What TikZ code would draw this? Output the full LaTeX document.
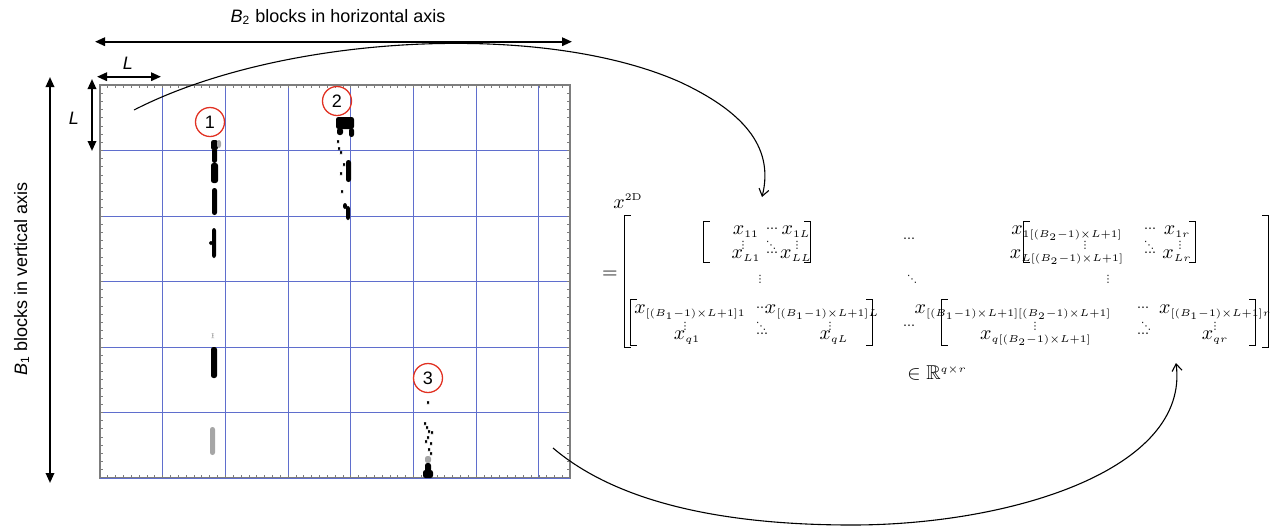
\documentclass[tikz,border=0pt]{standalone}
\usepackage{amssymb}
\usepackage{fontspec}
\usetikzlibrary{arrows.meta}
\newfontfamily\arialfont{Liberation Sans}
\newfontfamily\dotsfont{DejaVu Sans}
\DeclareMathSizes{10}{10}{5}{5}
\definecolor{gridblue}{RGB}{95,110,205}
\definecolor{framegray}{RGB}{125,125,125}
\definecolor{circred}{RGB}{225,50,35}
\newcommand\drawbrackets[1]{%
  \draw[brk] ([xshift=3pt]#1.north west) -- (#1.north west) -- (#1.south west) -- ([xshift=3pt]#1.south west);
  \draw[brk] ([xshift=-3pt]#1.north east) -- (#1.north east) -- (#1.south east) -- ([xshift=-3pt]#1.south east);}
\tikzset{
  dblarrow/.style={line width=1pt, {Triangle[length=5pt,width=4.2pt]}-{Triangle[length=5pt,width=4.2pt]}},
  curvearrow/.style={line width=0.55pt, -{Straight Barb[length=3.5pt,width=5pt]}},
  gridln/.style={gridblue, line width=0.5pt},
  tickln/.style={framegray, line width=0.4pt},
  ink/.style={fill=black, rounded corners=1.2pt},
  smudge/.style={fill=black!35, rounded corners=1.2pt},
  numc/.style={circle, draw=circred, line width=0.65pt, minimum size=14.5pt, inner sep=0pt, font=\arialfont\fontsize{9}{10}\selectfont},
  lbl/.style={font=\arialfont\fontsize{9}{10}\selectfont, inner sep=0pt},
  blk/.style={inner sep=0pt, minimum height=20pt},
  brk/.style={line width=0.5pt},
  ent/.style={inner sep=0pt, anchor=base, font=\fontsize{10}{12}\selectfont},
  dts/.style={inner sep=0pt, font=\dotsfont\fontsize{6}{7}\selectfont},
  vdts/.style={inner sep=0pt, font=\dotsfont\fontsize{5}{6}\selectfont},
}
\begin{document}
\begin{tikzpicture}[x=0.5pt, y=-0.5pt]
    \useasboundingbox (0,0) rectangle (1282,526);

    \coordinate (hl) at (95,41.7);
    \coordinate (hr) at (572,41.7);
    \coordinate (Ll) at (97,76.7);
    \coordinate (Lr) at (161,76.7);
    \coordinate (Lt) at (92,79);
    \coordinate (Lb) at (92,151);
    \coordinate (vt) at (50,77);
    \coordinate (vb) at (50,483);
    \coordinate (srcA) at (134,110);
    \coordinate (dstA) at (762,197);
    \coordinate (srcB) at (553,448);
    \coordinate (dstB) at (1176,363);

    % Axis arrows and labels
    \draw[dblarrow] (hl) -- (hr);
    \draw[dblarrow] (Ll) -- (Lr);
    \draw[dblarrow] (Lt) -- (Lb);
    \draw[dblarrow] (vt) -- (vb);
    \node[lbl, anchor=base] (htitle) at (338,22) {{\itshape B}\textsubscript{2} blocks in horizontal axis};
    \node[lbl, anchor=base, rotate=90] (vtitle) at (27,279) {{\itshape B}\textsubscript{1} blocks in vertical axis};
    \node[lbl] (Ltop) at (128,63) {\itshape L};
    \node[lbl] (Lleft) at (74,118) {\itshape L};

    % Plot
    \foreach \i in {1,...,7}
        \draw[gridln] ({100+62.7*\i},85) -- ({100+62.7*\i},478);
    \foreach \j in {1,...,5}
        \draw[gridln] (100,{85+65.5*\j}) -- (570,{85+65.5*\j});
    \foreach \i in {1,...,59} {
        \draw[tickln] ({100+7.8375*\i},85) -- ++(0,3);
        \draw[tickln] ({100+7.8375*\i},478) -- ++(0,-3);
    }
    \foreach \j in {1,...,47} {
        \draw[tickln] (100,{85+8.1875*\j}) -- ++(3,0);
        \draw[tickln] (570,{85+8.1875*\j}) -- ++(-3,0);
    }
    \draw[framegray, line width=0.6pt] (100,85) rectangle (570,478);
    \draw[gridln] (100,478) -- (570,478);

    % Signal traces
    \fill[ink] (211,140) rectangle (218,150);
    \fill[smudge] (217,140) rectangle (221,148);
    \fill[ink] (212,148) rectangle (217,163);
    \fill[ink] (211,163) rectangle (218,183);
    \fill[ink] (212,188) rectangle (217,215);
    \fill[ink] (212,228) rectangle (216,258);
    \fill[ink] (209,241) rectangle (213,245);
    \fill[smudge] (212,333) rectangle (213.5,338);
    \fill[ink] (211,347) rectangle (217,378);
    \fill[smudge] (210,427) rectangle (215,455);
    \fill[ink] (336,117) rectangle (354,129);
    \fill[ink] (337,128) rectangle (343,135);
    \fill[ink] (349,128) rectangle (354,137);
    \fill[ink] (346,160) rectangle (351,182);
    \fill[ink] (343,203) rectangle (347,209);
    \fill[ink] (346,206) rectangle (350,220);
    \fill[ink] (427,401) rectangle (429,404);
    \fill[smudge] (425,456) rectangle (431,463);
    \fill[ink] (425,463) rectangle (431,472);
    \fill[ink] (423,470) rectangle (433,478);
    \foreach \x/\y in {337/140,338/147,340/151,343/163,340/172,341/190,
                       424/422,426/426,428/430,431/431,427/436,425/440,430/442,428/448,430/452}
        \fill[ink] (\x,\y) rectangle ++(2,3);

    % Marked traces
    \node[numc] (n1) at (210,122) {1};
    \node[numc] (n2) at (337,101) {2};
    \node[numc] (n3) at (428,378) {3};

    % Matrix
    \node[ent] (xtwod) at (628,208) {$x^{\mathrm{2D}}$};
    \node[ent, anchor=center] (eq) at (610,275) {$=$};
    \node[blk, minimum width=321.5pt, minimum height=65.5pt] (outer) at (946.5,281.5) {};
    \node[blk, minimum width=53pt] (tl) at (757,242) {};
    \node[blk, minimum width=85.5pt] (tr) at (1109.5,242) {};
    \node[blk, minimum width=120.5pt, minimum height=22.5pt] (bl) at (751.5,322.5) {};
    \node[blk, minimum width=156.5pt, minimum height=22.5pt] (br) at (1098.5,322.5) {};
    \drawbrackets{outer}
    \drawbrackets{tl}
    \drawbrackets{tr}
    \drawbrackets{bl}
    \drawbrackets{br}

    \node[ent] (a11) at (746,234) {$x_{11}$};
    \node[dts] (a12) at (772,230) {⋯};
    \node[ent] (a13) at (796,234) {$x_{1L}$};
    \node[vdts] (a21) at (743,245) {⋮};
    \node[vdts] (a22) at (771,245) {⋱};
    \node[vdts] (a23) at (797,245) {⋮};
    \node[ent] (a31) at (746,258) {$x_{L1}$};
    \node[dts] (a32) at (772,254) {⋯};
    \node[ent] (a33) at (796,258) {$x_{LL}$};

    \node[ent] (b11) at (1067,234) {$x_{1[(B_2-1)\times L+1]}$};
    \node[dts] (b12) at (1150,230) {⋯};
    \node[ent] (b13) at (1177,234) {$x_{1r}$};
    \node[vdts] (b21) at (1085,245) {⋮};
    \node[vdts] (b22) at (1149,245) {⋱};
    \node[vdts] (b23) at (1180,245) {⋮};
    \node[ent] (b31) at (1067,258) {$x_{L[(B_2-1)\times L+1]}$};
    \node[dts] (b32) at (1150,254) {⋯};
    \node[ent] (b33) at (1177,258) {$x_{Lr}$};

    \node[dts] (m1) at (909,240) {⋯};
    \node[vdts] (m2) at (760,279) {⋮};
    \node[vdts] (m3) at (912,279) {⋱};
    \node[vdts] (m4) at (1108,279) {⋮};
    \node[dts] (m5) at (909,327) {⋯};

    \node[ent] (c11) at (690,313) {$x_{[(B_1-1)\times L+1]1}$};
    \node[dts] (c12) at (762,309) {⋯};
    \node[ent] (c13) at (822,313) {$x_{[(B_1-1)\times L+1]L}$};
    \node[vdts] (c21) at (685,326) {⋮};
    \node[vdts] (c22) at (761,326) {⋱};
    \node[vdts] (c23) at (830,326) {⋮};
    \node[ent] (c31) at (687,339) {$x_{q1}$};
    \node[dts] (c32) at (762,335) {⋯};
    \node[ent] (c33) at (834,339) {$x_{qL}$};

    \node[ent] (d11) at (1013,313) {$x_{[(B_1-1)\times L+1][(B_2-1)\times L+1]}$};
    \node[dts] (d12) at (1143,309) {⋯};
    \node[ent] (d13) at (1215,313) {$x_{[(B_1-1)\times L+1]r}$};
    \node[vdts] (d21) at (1035,326) {⋮};
    \node[vdts] (d22) at (1146,326) {⋱};
    \node[vdts] (d23) at (1215,326) {⋮};
    \node[ent] (d31) at (1036,339) {$x_{q[(B_2-1)\times L+1]}$};
    \node[dts] (d32) at (1143,335) {⋯};
    \node[ent] (d33) at (1215,339) {$x_{qr}$};

    \node[ent, anchor=center] (space) at (937,373) {$\in\mathbb{R}^{q\times r}$};

    % Curved connectors
    \draw[curvearrow] (srcA) .. controls (280,35) and (540,20) .. (680,82)
        .. controls (740,110) and (775,145) .. (dstA);
    \draw[curvearrow] (srcB) .. controls (620,505) and (730,525) .. (852,525)
        .. controls (1010,525) and (1190,470) .. (dstB);
\end{tikzpicture}
\end{document}
